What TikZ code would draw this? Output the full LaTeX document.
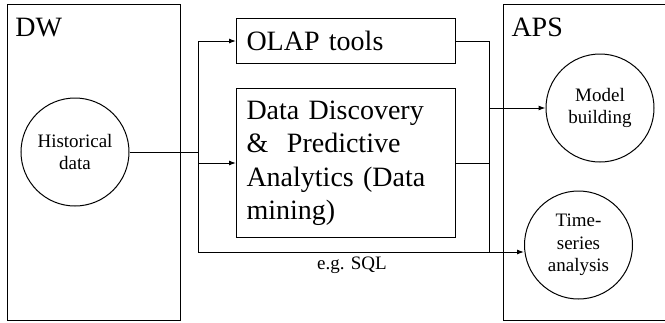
\documentclass[tikz,border=0pt]{standalone}
\usepackage{fontspec}
\setmainfont{Liberation Serif}
\usetikzlibrary{arrows.meta}
\tikzset{
  big/.style={font=\fontsize{28}{33.5}\selectfont},
  small/.style={font=\fontsize{19}{22.5}\selectfont},
  tool/.style={draw, rectangle, big, anchor=north west, align=left, inner xsep=10pt, minimum width=219pt},
  store/.style={draw, circle, small, align=center, inner sep=0pt, minimum size=108pt},
  >={Latex[length=7pt,width=5pt]}
}

\begin{document}
\begin{tikzpicture}[x=1pt, y=-1pt, line width=1pt]
        \useasboundingbox (0,0) rectangle (665,322);
        \draw (7,4) rectangle (180,320);
        \draw (503,4) rectangle (668,320);
        \node[big, anchor=base west, inner sep=0pt] (dw) at (15,36) {DW};
        \node[big, anchor=base west, inner sep=0pt] (aps) at (511,36) {APS};
        \node[store] (hist) at (75,152) {Historical\\data};
        \node[store] (model) at (600,108) {Model\\building};
        \node[store] (ts) at (578.5,245) {Time-\\series\\analysis};
        \node[tool, minimum height=45pt, text width=199pt] (olap) at (236,18) {OLAP tools};
        \node[tool, minimum height=149pt, text width=199pt] (dd) at (236,88) {Data Discovery\\\& \ Predictive\\Analytics (Data\\mining)};
        \coordinate (splitL) at (198,152);
        \coordinate (sqlL) at (198,252);
        \coordinate (sqlR) at (489,252);
        \coordinate (joinR) at (489,108);
        \draw (hist.east) -- (splitL);
        \draw[->] (splitL) |- (olap.west);
        \draw[->] (splitL) |- (dd.west);
        \draw[->] (splitL) -- (sqlL) -- (sqlL -| ts.west);
        \draw (olap.east) -| (sqlR);
        \draw (dd.east) -- (dd.east -| sqlR);
        \draw[->] (joinR) -- (model.west);
        \node[small] (sql) at (352,265) {e.g. SQL};
    \end{tikzpicture}
\end{document}
